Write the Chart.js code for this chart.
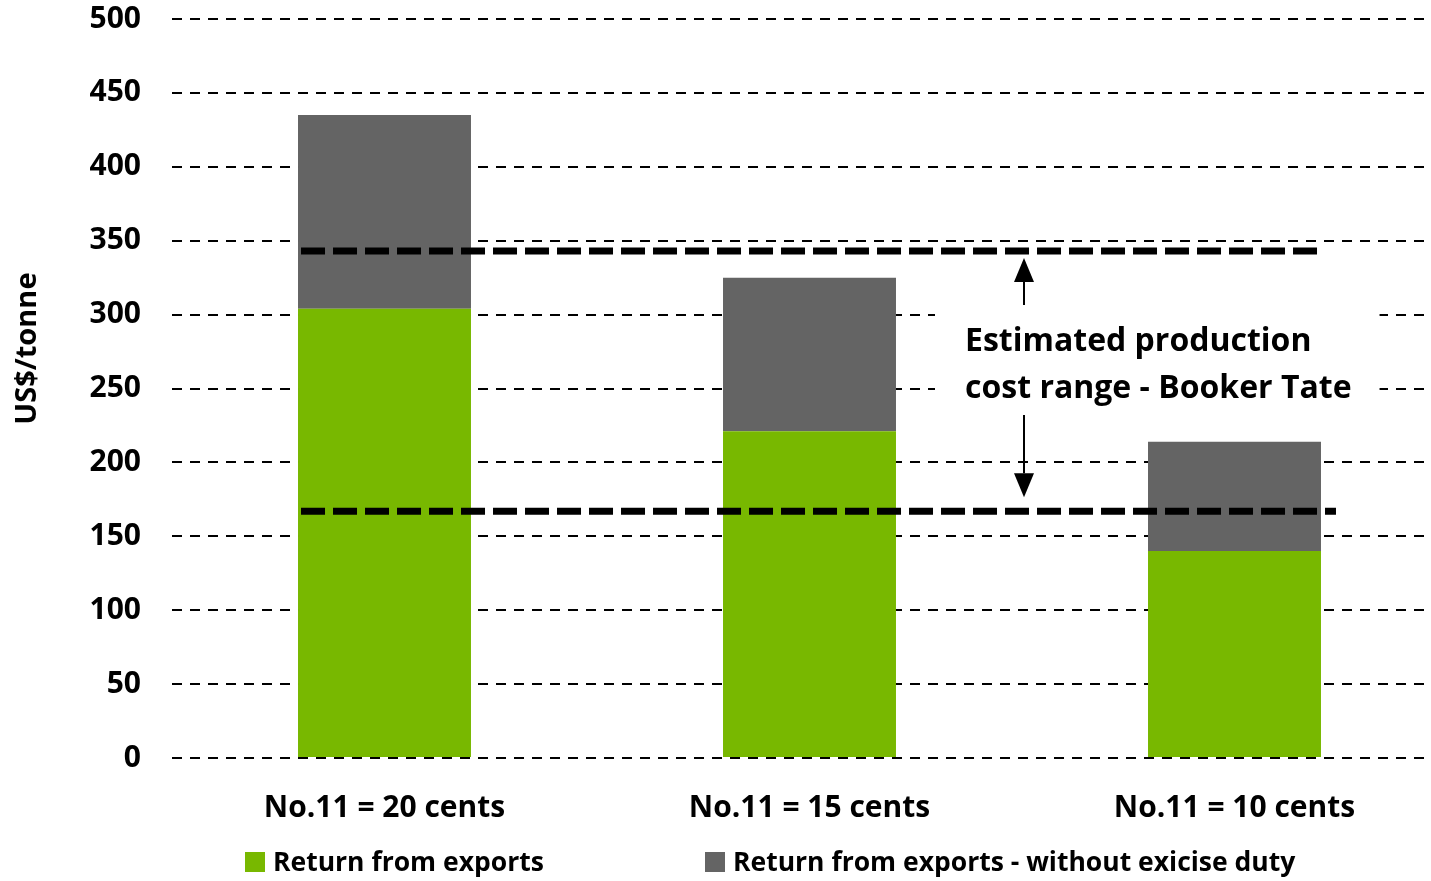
<!DOCTYPE html>
<html>
<head>
<meta charset="utf-8">
<script src="https://cdn.jsdelivr.net/npm/chart.js@4.4.1/dist/chart.umd.min.js"></script>
<style>
  html, body { margin: 0; padding: 0; background: #fff; overflow: hidden; }
  #wrap { width: 1447px; height: 881px; }
</style>
</head>
<body>
<div id="wrap"><canvas id="chart" width="1447" height="881"></canvas></div>
<script>
// Sugar price scenarios (ICE No.11 contract, US cents/lb)
const categories = ['No.11 = 20 cents', 'No.11 = 15 cents', 'No.11 = 10 cents'];
// US$/tonne returned from exports
const exportReturn = [304, 221, 140];
// Extra return if excise duty were removed (stacked on top)
const exciseDutyGain = [131, 104, 74];
const seriesNames = ['Return from exports', 'Return from exports - without exicise duty'];
// Estimated production cost range (US$/tonne): low, high
const costRange = [167, 343];
const costNote = ['Estimated production', 'cost range - Booker Tate'];
const yTicks = [0, 50, 100, 150, 200, 250, 300, 350, 400, 450, 500];
const yTitle = 'US$/tonne';

const FONT = '"Open Sans", Lato, sans-serif';
const GREEN = '#78b800';
const GREY = '#646464';

function arrow(ctx, x, yFrom, yTip, head) {
  const dir = yTip < yFrom ? -1 : 1;
  ctx.beginPath();
  ctx.moveTo(x, yFrom);
  ctx.lineTo(x, yTip - dir * head);
  ctx.lineWidth = 2;
  ctx.strokeStyle = '#000';
  ctx.stroke();
  ctx.beginPath();
  ctx.moveTo(x, yTip);
  ctx.lineTo(x - 10, yTip - dir * head);
  ctx.lineTo(x + 10, yTip - dir * head);
  ctx.closePath();
  ctx.fillStyle = '#000';
  ctx.fill();
}

const overlay = {
  id: 'overlay',
  afterDatasetsDraw(chart) {
    const { ctx, scales: { x, y } } = chart;
    const first = chart.getDatasetMeta(0).data[0];
    const last = chart.getDatasetMeta(0).data[categories.length - 1];
    const left = first.x - first.width / 2 + 3;
    const right = last.x + last.width / 2 + 3;
    const yLow = y.getPixelForValue(costRange[0]);
    const yHigh = y.getPixelForValue(costRange[1]);
    const ax = x.getPixelForValue(1.5) + 2;

    ctx.save();
    // label box (hides the gridlines behind the note)
    ctx.font = 'bold 32px ' + FONT;
    const tx = ax - 59;
    const w = Math.max(...costNote.map(s => ctx.measureText(s).width));
    ctx.fillStyle = '#fff';
    ctx.fillRect(tx - 30, yHigh + 50, w + 58, 110);
    ctx.fillStyle = '#000';
    ctx.textBaseline = 'middle';
    ctx.textAlign = 'left';
    ctx.fillText(costNote[0], tx, yHigh + 91);
    ctx.fillText(costNote[1], tx, yHigh + 138);

    // arrows pointing at both bounds of the cost range
    arrow(ctx, ax, yHigh + 54, yHigh + 7, 24);
    arrow(ctx, ax, yHigh + 164, yLow - 14, 24);

    // cost range bounds
    ctx.setLineDash([24, 8]);
    ctx.lineWidth = 7;
    ctx.strokeStyle = '#000';
    [yLow, yHigh].forEach(py => {
      ctx.beginPath();
      ctx.moveTo(left, py);
      ctx.lineTo(right + (py === yLow ? 12 : 0), py);
      ctx.stroke();
    });
    ctx.setLineDash([]);

    // axis title
    ctx.save();
    ctx.translate(28, y.getPixelForValue(277));
    ctx.rotate(-Math.PI / 2);
    ctx.font = 'bold 29px ' + FONT;
    ctx.textAlign = 'center';
    ctx.textBaseline = 'middle';
    ctx.fillStyle = '#000';
    ctx.fillText(yTitle, 0, 0);
    ctx.restore();

    // legend
    ctx.font = 'bold 26.5px ' + FONT;
    ctx.textBaseline = 'middle';
    const starts = [245, 705];
    chart.data.datasets.forEach((ds, i) => {
      const bx = starts[i];
      ctx.fillStyle = ds.backgroundColor;
      ctx.fillRect(bx, 852, 20, 20);
      ctx.fillStyle = '#000';
      ctx.fillText(ds.label, bx + 28, 863);
    });
    ctx.restore();
  }
};

new Chart(document.getElementById('chart'), {
  type: 'bar',
  data: {
    labels: categories,
    datasets: [
      { label: seriesNames[0], data: exportReturn, backgroundColor: GREEN },
      { label: seriesNames[1], data: exciseDutyGain, backgroundColor: GREY }
    ]
  },
  options: {
    responsive: false,
    animation: false,
    devicePixelRatio: 1,
    layout: { padding: { top: 19, bottom: 60, left: 0, right: 0 } },
    datasets: { bar: { categoryPercentage: 1, barPercentage: 0.407 } },
    plugins: { legend: { display: false }, tooltip: { enabled: false } },
    scales: {
      x: {
        stacked: true,
        grid: { display: false },
        border: { display: false },
        ticks: { color: '#000', font: { family: FONT, size: 30, weight: 'bold' }, padding: 24, maxRotation: 0 },
        afterFit(s) { s.height = 881 - 60 - 758; }
      },
      y: {
        stacked: true,
        min: 0, max: 500,
        afterBuildTicks(s) { s.ticks = yTicks.map(v => ({ value: v })); },
        grid: { color: '#000', lineWidth: 2, drawTicks: false },
        border: { display: false, dash: [10, 8] },
        ticks: { color: '#000', font: { family: FONT, size: 30, weight: 'bold' }, padding: 31 },
        afterFit(s) { s.width = 172; s.paddingTop = 0; s.paddingBottom = 0; }
      }
    }
  },
  plugins: [overlay]
});
</script>
</body>
</html>
